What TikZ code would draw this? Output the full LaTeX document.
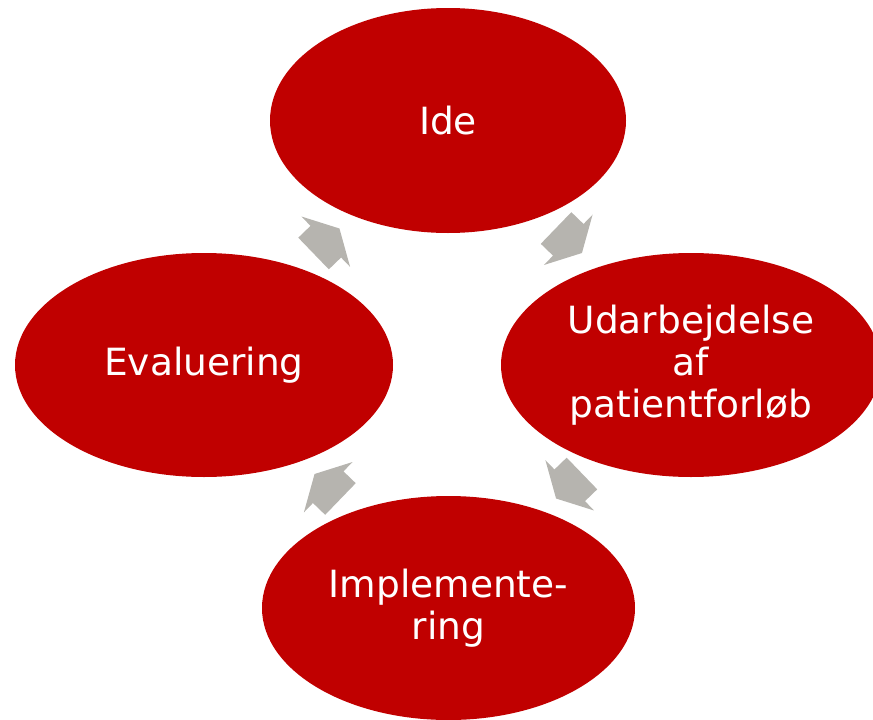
\documentclass[tikz,border=0pt]{standalone}
\usepackage{fontspec}
\setmainfont{DejaVu Sans}
\usetikzlibrary{shapes.geometric}
\definecolor{phasered}{RGB}{192,0,0}
\definecolor{cyclegray}{RGB}{182,180,175}
\begin{document}
\begin{tikzpicture}[x=1pt,y=-1pt,
  phase/.style={ellipse, fill=phasered, draw=none, inner sep=0pt,
    text=white, align=center, font=\fontsize{37.5}{42}\selectfont},
  cyclearrow/.pic={
    \fill[cyclegray] (-18,-22) -- (-1,-22) -- (-1,-35) -- (18,0)
      -- (-1,35) -- (-1,22) -- (-18,22) -- cycle;
  }]
\useasboundingbox (0,0) rectangle (873,720);

% the four phases of the cycle
\node[phase, minimum width=356pt, minimum height=225pt] (ide) at (448,120.5) {Ide};
\node[phase, minimum width=380pt, minimum height=224pt] (udarb) at (691,365)
  {Udarbejdelse\\af\\patientforløb};
\node[phase, minimum width=373pt, minimum height=224pt] (impl) at (448.5,608)
  {Implemente-\\ring};
\node[phase, minimum width=378pt, minimum height=224pt] (eval) at (204,365) {Evaluering};

% clockwise arrows between the phases
\coordinate (a1) at (569,240.5);
\coordinate (a2) at (569,486);
\coordinate (a3) at (327.5,486.5);
\coordinate (a4) at (326.5,241);
\pic[rotate=-44] at (a1) {cyclearrow};
\pic[rotate=-136] at (a2) {cyclearrow};
\pic[rotate=136] at (a3) {cyclearrow};
\pic[rotate=44] at (a4) {cyclearrow};
\end{tikzpicture}
\end{document}
